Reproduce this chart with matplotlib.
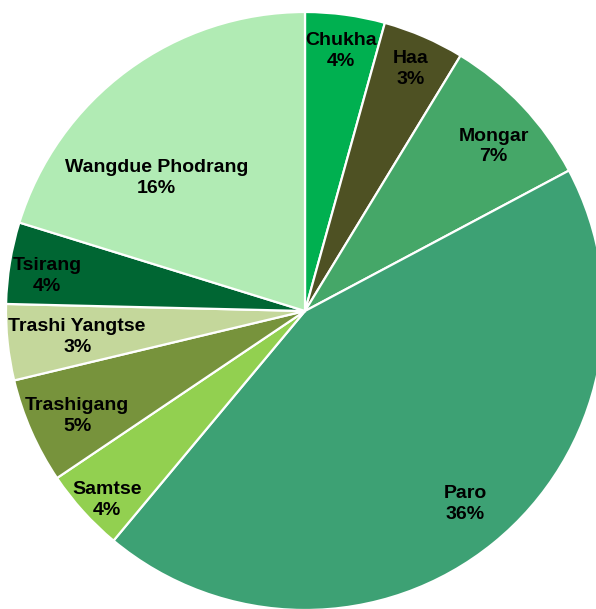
import matplotlib.pyplot as plt

# districts, clockwise from 12 o'clock
districts = ["Chukha", "Haa", "Mongar", "Paro", "Samtse", "Trashigang",
             "Trashi Yangtse", "Tsirang", "Wangdue Phodrang"]
# slice sizes
shares = [4.3, 4.4, 8.5, 43.8, 4.5, 5.7, 4.1, 4.4, 20.2]
# percentages printed on the chart
pct_labels = ["4%", "3%", "7%", "36%", "4%", "5%", "3%", "4%", "16%"]

colors = ["#00B050", "#4E5123", "#45A768", "#3DA174", "#92D050",
          "#77933C", "#C4D79B", "#006633", "#B1EBB4"]

# label anchors (unit = pie radius, origin = pie centre)
label_pos = [(0.121, 0.869), (0.352, 0.809), (0.631, 0.550), (0.537, -0.644),
             (-0.661, -0.631), (-0.762, -0.352), (-0.762, -0.087),
             (-0.862, 0.117), (-0.497, 0.446)]

W, H = 596, 609
cx, cy, r = 305, 311, 299  # pie centre and radius in pixels

fig = plt.figure(figsize=(W / 100, H / 100), dpi=100)
ax = fig.add_axes([0, 0, 1, 1])

ax.pie(shares, colors=colors, startangle=90, counterclock=False, radius=1,
       wedgeprops={"edgecolor": "white", "linewidth": 1.6})

for name, pct, (x, y) in zip(districts, pct_labels, label_pos):
    ax.text(x, y, f"{name}\n{pct}", ha="center", va="center",
            fontsize=14, fontweight="bold", family="Liberation Sans",
            color="black", linespacing=1.3)

ax.set_xlim(-cx / r, (W - cx) / r)
ax.set_ylim(-(H - cy) / r, cy / r)
ax.set_aspect("auto")
ax.axis("off")

fig.savefig("out.png", dpi=100)
